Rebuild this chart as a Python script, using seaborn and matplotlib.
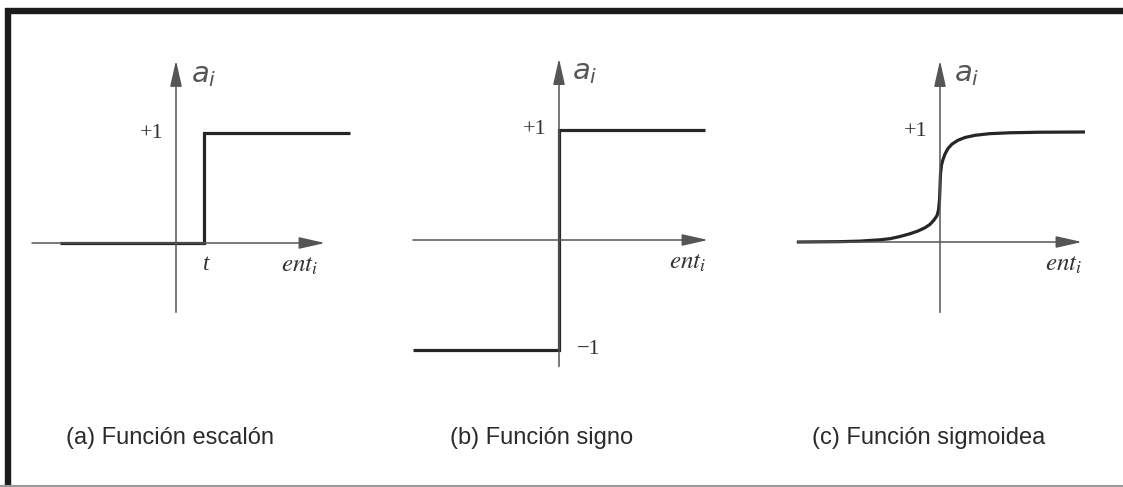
import matplotlib
matplotlib.use("Agg")
import matplotlib.pyplot as plt
import pandas as pd
import seaborn as sns
from matplotlib.lines import Line2D

sns.set_theme(style="white")
plt.rcParams["font.family"] = ["Liberation Sans", "DejaVu Sans"]

# ---------------- data ----------------
step_x = [-1.16, 0.28, 0.28, 1.74]
step_y = [0, 0, 1, 1]
step_threshold = 0.28

sign_x = [-1.46, 0.0, 0.0, 1.46]
sign_y = [-1, -1, 1, 1]

sig_x = [-1.43, -1.0, -0.8, -0.6, -0.5, -0.4, -0.3, -0.22, -0.15, -0.1, -0.06,
         -0.03, -0.015, -0.005, 0.0, 0.005, 0.015, 0.03, 0.05, 0.08, 0.12, 0.18,
         0.25, 0.35, 0.5, 0.7, 1.0, 1.45]
sig_y = [0.0, 0.003, 0.008, 0.02, 0.03, 0.05, 0.075, 0.10, 0.13, 0.16, 0.2,
         0.24, 0.29, 0.38, 0.5, 0.62, 0.70, 0.75, 0.8, 0.85, 0.89, 0.925,
         0.95, 0.97, 0.985, 0.993, 0.998, 1.0]

captions = ["(a) Función escalón", "(b) Función signo", "(c) Función sigmoidea"]
y_label = r"$a_i$"
x_label = r"$ent_i$"
level_labels = ["+1", "\u22121"]

# ---------------- layout ----------------
W, H = 1123, 487
PXX, PXY = 100.0, 110.0  # pixels per data unit
panels = [
    dict(box=(15, 385), origin=(176, 243), xax=(-1.44, 1.49), yax=(-0.63, 1.66),
         cap_x=170, a_x=0.15, ent_x=1.24),
    dict(box=(390, 750), origin=(559, 240), xax=(-1.46, 1.49), yax=(-1.15, 1.65),
         cap_x=542, a_x=0.13, ent_x=1.29),
    dict(box=(760, 1115), origin=(940, 242), xax=(-1.43, 1.42), yax=(-0.64, 1.65),
         cap_x=929, a_x=0.14, ent_x=1.24),
]

fig = plt.figure(figsize=(W / 100, H / 100), dpi=100)
fig.patch.set_facecolor("white")

AX_COL = "#555555"
FN_COL = "#262626"
serif = ["Liberation Serif", "DejaVu Serif"]

datasets = [
    pd.DataFrame({"x": step_x, "y": step_y}),
    pd.DataFrame({"x": sign_x, "y": sign_y}),
    pd.DataFrame({"x": sig_x, "y": sig_y}),
]

for i, (p, df) in enumerate(zip(panels, datasets)):
    x0, x1 = p["box"]
    ox, oy = p["origin"]
    ax = fig.add_axes([x0 / W, 0, (x1 - x0) / W, 1])
    ax.set_xlim((x0 - ox) / PXX, (x1 - ox) / PXX)
    ax.set_ylim((oy - H) / PXY, oy / PXY)
    ax.axis("off")
    ax.patch.set_alpha(0)

    # axes with arrows
    arrow = dict(arrowstyle="-|>,head_length=0.8,head_width=0.18",
                 lw=1.1, color=AX_COL, mutation_scale=20, shrinkA=0, shrinkB=0)
    ax.annotate("", xy=(p["xax"][1], 0), xytext=(p["xax"][0], 0), arrowprops=arrow)
    ax.annotate("", xy=(0, p["yax"][1]), xytext=(0, p["yax"][0]), arrowprops=arrow)

    sns.lineplot(data=df, x="x", y="y", ax=ax, sort=False, estimator=None,
                 color=FN_COL, lw=2.3, solid_joinstyle="miter",
                 solid_capstyle="butt", legend=False)

    # labels
    ax.text(p["a_x"], 1.53, y_label, fontsize=21, color="#555555",
            math_fontfamily="dejavusans", ha="left", va="center")
    ax.text(p["ent_x"], -0.2, x_label, fontsize=18, color="#333333",
            math_fontfamily="stix", ha="center", va="center")
    ax.text(-0.12, 1.0, level_labels[0], fontsize=16,
            family=serif, color="#333333", ha="right", va="center")

    ax.set_xlabel("")
    ax.set_ylabel("")

    fig.text(p["cap_x"] / W, 1 - 438 / H, captions[i], fontsize=17,
             color="#2a2a2a", ha="center", va="center")

# extra labels
axes = fig.axes
axes[0].text(step_threshold + 0.02, -0.2, "t", fontsize=17, family=serif,
             style="italic", color="#333333", ha="center", va="center")
axes[1].text(0.3, -1.0, level_labels[1], fontsize=16, family=serif,
             color="#333333", ha="center", va="center")

# frame
fig.add_artist(Line2D([5 / W, 1], [1 - 11 / H, 1 - 11 / H], transform=fig.transFigure,
                      color="#1c1c1c", lw=4.6, solid_capstyle="butt"))
fig.add_artist(Line2D([8 / W, 8 / W], [0, 1 - 8 / H], transform=fig.transFigure,
                      color="#1c1c1c", lw=4.6, solid_capstyle="butt"))
fig.add_artist(Line2D([0, 1], [1.5 / H, 1.5 / H], transform=fig.transFigure,
                      color="#9a9a9a", lw=1.5, solid_capstyle="butt"))

fig.savefig("out.png", dpi=100, facecolor="white")
